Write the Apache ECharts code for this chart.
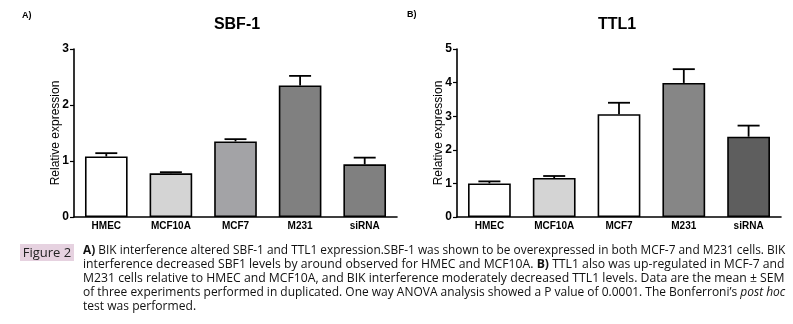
<!DOCTYPE html>
<html><head><meta charset="utf-8">
<script src="https://cdn.jsdelivr.net/npm/echarts@6/dist/echarts.min.js"></script>
<style>
html,body{margin:0;padding:0;background:#fff;}
#wrap{position:relative;width:793px;height:324px;overflow:hidden;}
#chart{position:absolute;left:0;top:0;width:793px;height:324px;}
.cap{position:absolute;left:83px;white-space:nowrap;font-family:"Liberation Sans Narrow","Open Sans","DejaVu Sans Condensed",sans-serif;font-size:12.5px;line-height:14px;color:#111;transform-origin:0 50%;}
#fig{position:absolute;left:20px;top:244px;width:54px;height:17px;background:#e6d2e0;font-family:"Liberation Sans Narrow","Open Sans","DejaVu Sans Condensed",sans-serif;font-size:13px;line-height:17px;text-align:center;color:#222;}
</style></head>
<body><div id="wrap"><div id="chart"></div><div id="fig">Figure 2</div></div>
<script>
const categories = ['HMEC','MCF10A','MCF7','M231','siRNA'];
const sbfMean = [1.08, 0.78, 1.35, 2.35, 0.94];
const sbfErrTop = [1.14, 0.80, 1.39, 2.52, 1.06];
const ttlMean = [1.00, 1.16, 3.06, 3.99, 2.39];
const ttlErrTop = [1.06, 1.22, 3.40, 4.40, 2.72];
const sbfTicks = [0,1,2,3];
const ttlTicks = [0,1,2,3,4,5];
const sbfColors = ['#ffffff','#d4d4d4','#a3a3a6','#808080','#808080'];
const ttlColors = ['#ffffff','#d4d4d4','#ffffff','#868686','#5e5e5e'];
const captionLines = [
  '<b>A)</b> BIK interference altered SBF-1 and TTL1 expression.SBF-1 was shown to be overexpressed in both MCF-7 and M231 cells. BIK',
  'interference decreased SBF1 levels by around observed for HMEC and MCF10A. <b>B)</b> TTL1 also was up-regulated in MCF-7 and',
  'M231 cells relative to HMEC and MCF10A, and BIK interference moderately decreased TTL1 levels. Data are the mean \u00b1 SEM',
  'of three experiments performed in duplicated. One way ANOVA analysis showed a P value of 0.0001. The Bonferroni\u2019s <i>post hoc</i>',
  'test was performed.'
];

const F = '"Liberation Sans", Arial, sans-serif';
function xAxis(gi){
  return {type:'category', gridIndex:gi, data:categories, boundaryGap:true,
    axisLine:{lineStyle:{color:'#000',width:1.6}},
    axisTick:{alignWithLabel:true,length:3,lineStyle:{color:'#000',width:1.2}},
    axisLabel:{color:'#000',fontFamily:F,fontWeight:'bold',fontSize:10,margin:4}};
}
function yAxis(gi,max,ticks){
  return {type:'value', gridIndex:gi, min:0, max:max, interval:1,
    name:'Relative expression', nameLocation:'middle', nameGap:12, nameMoveOverlap:false,
    nameTextStyle:{color:'#000',fontFamily:F,fontSize:12},
    axisLine:{show:true,lineStyle:{color:'#000',width:1.6}},
    axisTick:{show:true,length:4,lineStyle:{color:'#000',width:1.2}},
    splitLine:{show:false},
    axisLabel:{color:'#000',fontFamily:F,fontWeight:'bold',fontSize:12,margin:5,
      formatter:v=>ticks.includes(v)?String(v):''}};
}
function barSeries(gi,vals,colors){
  return {type:'bar', xAxisIndex:gi, yAxisIndex:gi, barWidth:'66%', z:2,
    data: vals.map((v,i)=>({value:v,itemStyle:{color:colors[i],borderColor:'#000',borderWidth:1.6}}))};
}
function errSeries(gi,means,tops){
  return {type:'custom', xAxisIndex:gi, yAxisIndex:gi, z:1,
    data: means.map((m,i)=>[i,m,tops[i]]),
    renderItem:function(params,api){
      const p0=api.coord([api.value(0),api.value(1)]);
      const p1=api.coord([api.value(0),api.value(2)]);
      const bw=api.size([1,0])[0]*0.34;
      const st={stroke:'#000',lineWidth:1.8};
      return {type:'group',children:[
        {type:'line',shape:{x1:p0[0],y1:p0[1],x2:p1[0],y2:p1[1]},style:st},
        {type:'line',shape:{x1:p1[0]-bw/2,y1:p1[1],x2:p1[0]+bw/2,y2:p1[1]},style:st}
      ]};
    }};
}
const chart = echarts.init(document.getElementById('chart'),null,{renderer:'canvas'});
chart.setOption({
  animation:false,
  title:[
    {text:'SBF-1',left:237,top:17,padding:0,textAlign:'center',textStyle:{fontFamily:F,fontWeight:'bold',fontSize:16,color:'#000'}},
    {text:'TTL1',left:617,top:17,padding:0,textAlign:'center',textStyle:{fontFamily:F,fontWeight:'bold',fontSize:16,color:'#000'}},
    {text:'A)',left:22,top:11,padding:0,textStyle:{fontFamily:F,fontWeight:'bold',fontSize:9,color:'#000'}},
    {text:'B)',left:407,top:10,padding:0,textStyle:{fontFamily:F,fontWeight:'bold',fontSize:9,color:'#000'}}
  ],
  grid:[
    {left:74,top:49,width:323,height:168},
    {left:457,top:49,width:324,height:168}
  ],
  xAxis:[xAxis(0),xAxis(1)],
  yAxis:[yAxis(0,3,sbfTicks),yAxis(1,5,ttlTicks)],
  series:[
    errSeries(0,sbfMean,sbfErrTop), barSeries(0,sbfMean,sbfColors),
    errSeries(1,ttlMean,ttlErrTop), barSeries(1,ttlMean,ttlColors)
  ]
});
const wrap=document.getElementById('wrap');
const tops=[243,257,271,285,299];
const targetW=702;
let scales=[];
captionLines.forEach((t,i)=>{
  const d=document.createElement('div');d.className='cap';d.innerHTML=t;d.style.top=tops[i]+'px';
  wrap.appendChild(d);
});
const caps=[...document.querySelectorAll('.cap')];
caps.forEach((d,i)=>{ if(i<4){ const s=targetW/d.scrollWidth; scales.push(s); d.style.transform='scaleX('+s+')'; }});
const avg=scales.reduce((a,b)=>a+b,0)/scales.length;
caps[4].style.transform='scaleX('+avg+')';
</script></body></html>
